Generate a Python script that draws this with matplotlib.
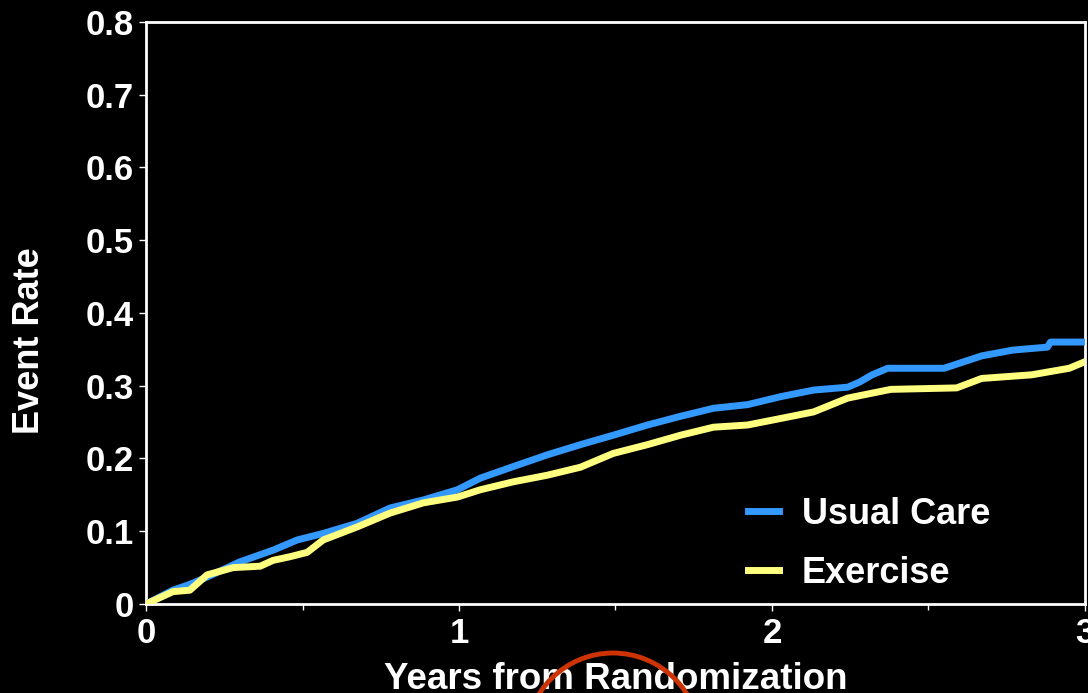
import matplotlib
matplotlib.use("Agg")
import matplotlib.pyplot as plt
from matplotlib.patches import Ellipse

# Cumulative event rate
usual_t = [0.0, 0.086, 0.14, 0.195, 0.30, 0.406, 0.483, 0.566, 0.675, 0.78,
           0.886, 0.995, 1.068, 1.174, 1.282, 1.388, 1.493, 1.602, 1.708,
           1.813, 1.922, 2.028, 2.133, 2.242, 2.28, 2.32, 2.37, 2.55, 2.67,
           2.77, 2.88, 2.89, 3.0]
usual_y = [0.0, 0.019, 0.027, 0.037, 0.058, 0.074, 0.088, 0.097, 0.111, 0.132,
           0.143, 0.157, 0.173, 0.189, 0.205, 0.219, 0.232, 0.246, 0.258,
           0.269, 0.274, 0.285, 0.294, 0.298, 0.305, 0.315, 0.324, 0.324, 0.341,
           0.349, 0.353, 0.36, 0.36]

exer_t = [0.0, 0.086, 0.14, 0.195, 0.278, 0.365, 0.406, 0.46, 0.515, 0.566,
          0.675, 0.78, 0.886, 0.995, 1.068, 1.174, 1.282, 1.388, 1.493, 1.602,
          1.708, 1.813, 1.922, 2.028, 2.133, 2.242, 2.38, 2.59, 2.67, 2.83,
          2.95, 3.0]
exer_y = [0.0, 0.017, 0.019, 0.04, 0.05, 0.052, 0.06, 0.065, 0.071, 0.088,
          0.106, 0.125, 0.139, 0.147, 0.157, 0.168, 0.177, 0.188, 0.207, 0.219,
          0.232, 0.243, 0.246, 0.255, 0.264, 0.283, 0.295, 0.297, 0.31, 0.315,
          0.324, 0.333]

x_ticks = [0, 1, 2, 3]
x_minor = [0.5, 1.5, 2.5]
y_ticks = [0, 0.1, 0.2, 0.3, 0.4, 0.5, 0.6, 0.7, 0.8]
y_labels = ["0", "0.1", "0.2", "0.3", "0.4", "0.5", "0.6", "0.7", "0.8"]

BLUE = "#3399ff"
YELLOW = "#ffff80"
FONT = "Liberation Sans"

fig = plt.figure(figsize=(10.88, 6.93), dpi=100, facecolor="black")
ax = fig.add_axes([0.1342, 0.1284, 0.863, 0.84])
ax.set_facecolor("black")

ax.plot(usual_t, usual_y, color=BLUE, lw=5, label="Usual Care", zorder=3)
ax.plot(exer_t, exer_y, color=YELLOW, lw=5, label="Exercise", zorder=4)

ax.set_xlim(0, 3)
ax.set_ylim(0, 0.8)
ax.set_xticks(x_ticks)
ax.set_xticks(x_minor, minor=True)
ax.set_yticks(y_ticks)
ax.set_yticklabels(y_labels)

for s in ax.spines.values():
    s.set_color("white")
    s.set_linewidth(2)

ax.tick_params(axis="both", which="major", colors="white", length=5, width=1,
               labelsize=25, pad=4)
ax.tick_params(axis="x", which="minor", colors="white", length=4, width=1)
for lab in ax.get_xticklabels() + ax.get_yticklabels():
    lab.set_fontfamily(FONT)
    lab.set_fontweight("bold")

ax.set_xlabel("Years from Randomization", fontsize=26.5, fontweight="bold",
              color="white", family=FONT)
ax.xaxis.set_label_coords(0.5, -0.13)
ax.xaxis.label.set_va("center")
ax.set_ylabel("Event Rate", fontsize=26, fontweight="bold",
              color="white", family=FONT)
ax.yaxis.set_label_coords(-0.1245, 0.452)
ax.yaxis.label.set_va("center")

leg = ax.legend(loc="lower right", bbox_to_anchor=(0.934, -0.033), frameon=False,
                handlelength=0.85, handletextpad=0.65, labelspacing=0.66,
                prop={"family": FONT, "weight": "bold", "size": 26})
for t in leg.get_texts():
    t.set_color("white")

# red highlight circle around the axis title
circ = Ellipse((0.5634, -0.0678), 0.16, 0.251, transform=fig.transFigure,
               fill=False, edgecolor="#cc3300", lw=3.5, zorder=10,
               clip_on=False)
fig.add_artist(circ)

fig.savefig("out.png", dpi=100, facecolor="black")
